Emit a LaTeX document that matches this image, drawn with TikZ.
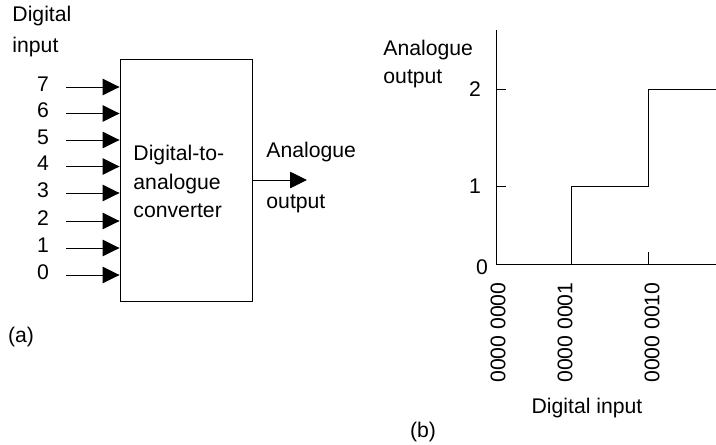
\documentclass[tikz,border=0pt]{standalone}
\usepackage{fontspec}
\setmainfont{Liberation Sans}
\usepackage{tikz}
\usetikzlibrary{arrows.meta, positioning, calc}

\begin{document}
\begin{tikzpicture}[x=1pt, y=-1pt, line width=0.9pt,
    txt/.style={font=\fontsize{21.2}{28.5}\selectfont, inner sep=0pt},
    bigarrow/.style={-{Triangle[length=17pt, width=16.5pt]}},
    axisline/.style={line width=0.9pt}]
    \useasboundingbox (0,0) rectangle (716,445);

    % (a) converter block
    \node[draw, rectangle, minimum width=132pt, minimum height=242pt, inner sep=0pt] (dac) at (186,180.5) {};
    \node[txt, align=left, anchor=west] (dactext) at (133,181.5) {Digital-to-\\analogue\\converter};

    % Digital input bits
    \node[txt, align=left, anchor=west, font=\fontsize{21.2}{31}\selectfont] (inlabel) at (12,31.5) {Digital\\input};
    \foreach \i/\y in {7/87, 6/113.5, 5/140, 4/166.5, 3/193, 2/221, 1/248, 0/275} {
        \coordinate (in\i) at (66,\y);
        \node[txt] (bit\i) at (43,\y-3) {\i};
        \draw[bigarrow] (in\i) -- (in\i -| dac.west);
    }

    % Analogue output
    \coordinate (aout) at (307,180);
    \draw[bigarrow] (dac.east |- aout) -- (aout);
    \node[txt, anchor=west] (outtop) at (266,152) {Analogue};
    \node[txt, anchor=west] (outbot) at (266,204) {output};
    \node[txt] (parta) at (21,337) {(a)};

    % (b) axes
    \coordinate (origin) at (496,264);
    \coordinate (ytop) at (496,30);
    \coordinate (xend) at (716,264);
    \draw[axisline] (ytop) -- (origin) -- (xend);

    % Tick marks and levels
    \draw (496,89) -- (506,89);
    \draw (496,186) -- (506,186);
    \draw (571.5,264) -- (571.5,252);
    \draw (648,264) -- (648,252);
    \node[txt] (lvl2) at (475,89) {2};
    \node[txt] (lvl1) at (475,186) {1};
    \node[txt] (lvl0) at (482,267) {0};

    % Staircase
    \draw (571.5,264) -- (571.5,186) -- (648,186) -- (648,89) -- (716,89);

    % Axis labels
    \node[txt, align=left, anchor=west] (ylabel) at (383,64) {Analogue\\output};
    \node[txt, rotate=90, anchor=east] (code0) at (498,282) {0000 0000};
    \node[txt, rotate=90, anchor=east] (code1) at (565,282) {0000 0001};
    \node[txt, rotate=90, anchor=east] (code2) at (652,282) {0000 0010};
    \node[txt] (xlabel) at (587,408) {Digital input};
    \node[txt] (partb) at (423,432) {(b)};
\end{tikzpicture}
\end{document}
